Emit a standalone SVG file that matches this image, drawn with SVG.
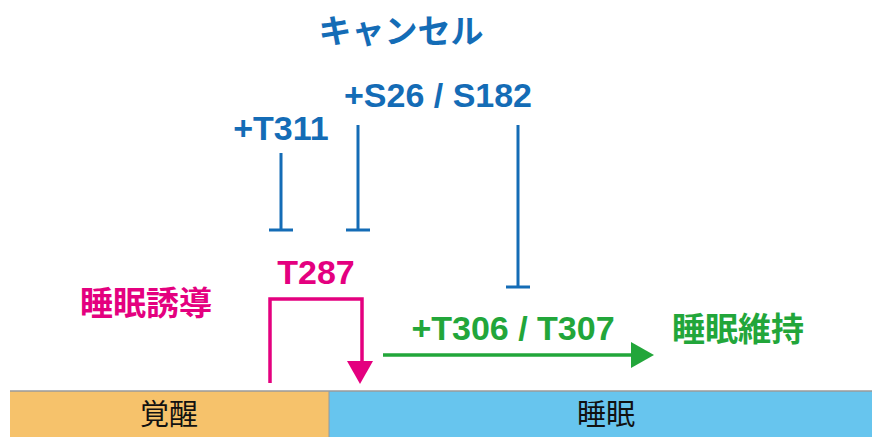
<svg xmlns="http://www.w3.org/2000/svg" width="872" height="437" viewBox="0 0 872 437">
<style>
.lat{font-family:"Liberation Sans",Arial,sans-serif;font-weight:bold;font-size:34px;text-anchor:middle}
.jp{font-family:"Noto Sans CJK JP","Noto Sans CJK SC",sans-serif;font-weight:bold;font-size:33px;text-anchor:middle}
.jpr{font-family:"Noto Sans CJK JP","Noto Sans CJK SC",sans-serif;font-weight:normal;font-size:29px;text-anchor:middle;fill:#111}
.blue{fill:#146cb6}
.pink{fill:#e4007f}
.green{fill:#22a63a}
.inh{stroke:#146cb6;stroke-width:3;fill:none}
</style>
<rect width="872" height="437" fill="#fff"/>
<g id="wake">
<rect x="10" y="391" width="319" height="46" fill="#f6c26b"/>
<text class="jpr" x="169" y="425">覚醒</text>
</g>
<g id="sleep">
<rect x="329" y="391" width="543" height="46" fill="#67c5ee"/>
<text class="jpr" x="606" y="425">睡眠</text>
</g>
<line x1="10" y1="391" x2="872" y2="391" stroke="#9a9a9a" stroke-width="1.5"/>
<line x1="329" y1="391" x2="329" y2="437" stroke="#9a9a9a" stroke-width="1"/>
<g id="cancel"><text class="jp blue" x="401" y="43">キャンセル</text></g>
<g id="s26"><text class="lat blue" x="438" y="107">+S26 / S182</text></g>
<g id="t311"><text class="lat blue" x="281" y="140">+T311</text></g>
<g id="t287"><text class="lat pink" x="316" y="284">T287</text></g>
<g id="induction"><text class="jp pink" x="146" y="315">睡眠誘導</text></g>
<g id="t306"><text class="lat green" x="513" y="340">+T306 / T307</text></g>
<g id="maintenance"><text class="jp green" x="738" y="341">睡眠維持</text></g>
<g id="connectors">
<path class="inh" d="M281 153V230M269 230H293"/>
<path class="inh" d="M358 125V230M346 230H370"/>
<path class="inh" d="M518 125V287M506 287H530"/>
<path d="M270 383V299H362V364" stroke="#e4007f" stroke-width="3.5" fill="none"/>
<polygon points="347,361 373,361 360,384" fill="#e4007f"/>
<line x1="383" y1="355" x2="633" y2="355" stroke="#22a63a" stroke-width="3.5"/>
<polygon points="631,342 654,355 631,368" fill="#22a63a"/>
</g>
</svg>
